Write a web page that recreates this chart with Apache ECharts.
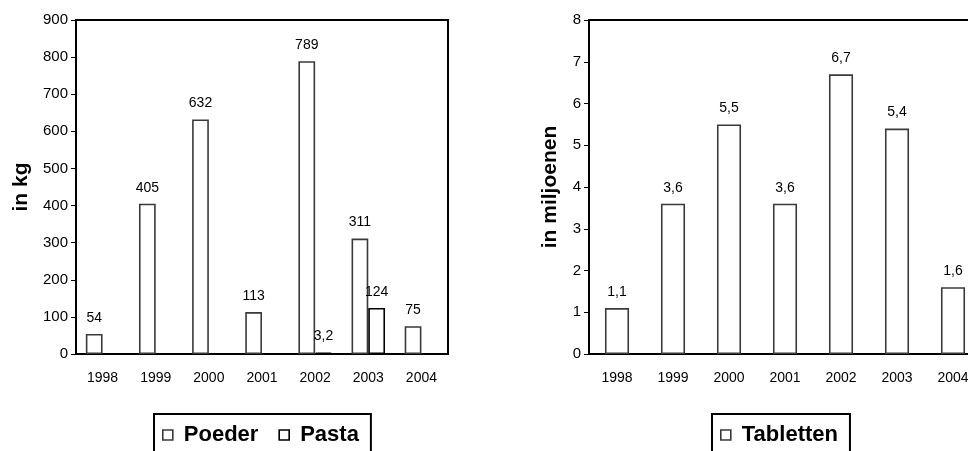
<!DOCTYPE html>
<html>
<head>
<meta charset="utf-8">
<script src="https://cdn.jsdelivr.net/npm/echarts@6/dist/echarts.min.js"></script>
<style>
  html, body { margin: 0; padding: 0; background: #fff; }
  #chart { width: 968px; height: 451px; }
</style>
</head>
<body>
<div id="chart"></div>
<script>
// Years on both category axes
const years = ['1998', '1999', '2000', '2001', '2002', '2003', '2004'];

// Left panel: amounts in kg
const poeder = [54, 405, 632, 113, 789, 311, 75];
const pasta = [null, null, null, null, 3.2, 124, null];

// Right panel: tablets in millions
const tabletten = [1.1, 3.6, 5.5, 3.6, 6.7, 5.4, 1.6];

// Tick values for each value axis
const kgTicks = { min: 0, max: 900, interval: 100 };
const milTicks = { min: 0, max: 8, interval: 1 };

const FONT = 'Liberation Sans, Arial, sans-serif';
const dutch = v => String(v).replace('.', ',');

const labelStyle = {
  show: true,
  position: 'top',
  distance: 9,
  fontFamily: FONT,
  fontSize: 14,
  color: '#000',
  formatter: p => dutch(p.value)
};

function valueAxis(gridIndex, ticks, name, gap) {
  return {
    type: 'value',
    gridIndex,
    min: ticks.min,
    max: ticks.max,
    interval: ticks.interval,
    name,
    nameLocation: 'middle',
    nameGap: gap,
    nameTextStyle: { fontFamily: FONT, fontSize: 21, fontWeight: 'bold', color: '#000' },
    axisLine: { show: true, lineStyle: { color: '#000', width: 2 } },
    axisTick: { show: true, length: 5, lineStyle: { color: '#000', width: 1 } },
    axisLabel: { fontFamily: FONT, fontSize: 15, color: '#000', margin: 8 },
    splitLine: { show: false }
  };
}

function categoryAxis(gridIndex) {
  return {
    type: 'category',
    gridIndex,
    data: years,
    axisLine: { show: true, lineStyle: { color: '#000', width: 2 } },
    axisTick: { show: false },
    axisLabel: { fontFamily: FONT, fontSize: 14, color: '#000', margin: 17 }
  };
}

const legendBase = {
  top: 414,
  orient: 'horizontal',
  icon: 'rect',
  itemWidth: 10,
  itemHeight: 10,
  itemGap: 20,
  padding: [10, 12, 30, 8],
  borderColor: '#000',
  borderWidth: 2,
  textStyle: { fontFamily: FONT, fontSize: 22, fontWeight: 'bold', color: '#000', padding: [0, 0, 0, 6] }
};

const poederStyle = { color: '#fff', borderColor: '#3a3a3a', borderWidth: 1.6 };
const pastaStyle = { color: '#fff', borderColor: '#000', borderWidth: 1.6 };

const chart = echarts.init(document.getElementById('chart'), null, { renderer: 'canvas' });

const gridBase = {
  top: 20, height: 334, show: true,
  borderColor: '#000', borderWidth: 2, backgroundColor: 'transparent',
  containLabel: false, outerBoundsMode: 'none'
};

chart.setOption({
  animation: false,
  backgroundColor: '#fff',
  grid: [
    Object.assign({}, gridBase, { left: 76, width: 372 }),
    Object.assign({}, gridBase, { left: 589, width: 392 })
  ],
  xAxis: [categoryAxis(0), categoryAxis(1)],
  yAxis: [valueAxis(0, kgTicks, 'in kg', 44), valueAxis(1, milTicks, 'in miljoenen', 28)],
  legend: [
    Object.assign({}, legendBase, {
      left: 154,
      data: [
        { name: 'Poeder', itemStyle: poederStyle },
        { name: 'Pasta', itemStyle: pastaStyle }
      ]
    }),
    Object.assign({}, legendBase, {
      left: 712,
      data: [{ name: 'Tabletten', itemStyle: poederStyle }]
    })
  ],
  series: [
    {
      name: 'Poeder', type: 'bar', xAxisIndex: 0, yAxisIndex: 0,
      data: poeder, barGap: '0%', barCategoryGap: '37%',
      itemStyle: poederStyle, label: labelStyle
    },
    {
      name: 'Pasta', type: 'bar', xAxisIndex: 0, yAxisIndex: 0,
      data: pasta, barGap: '0%', barCategoryGap: '37%',
      itemStyle: pastaStyle, label: labelStyle
    },
    {
      name: 'Tabletten', type: 'bar', xAxisIndex: 1, yAxisIndex: 1,
      data: tabletten, barCategoryGap: '57%',
      itemStyle: poederStyle, label: labelStyle
    }
  ]
});
</script>
</body>
</html>
